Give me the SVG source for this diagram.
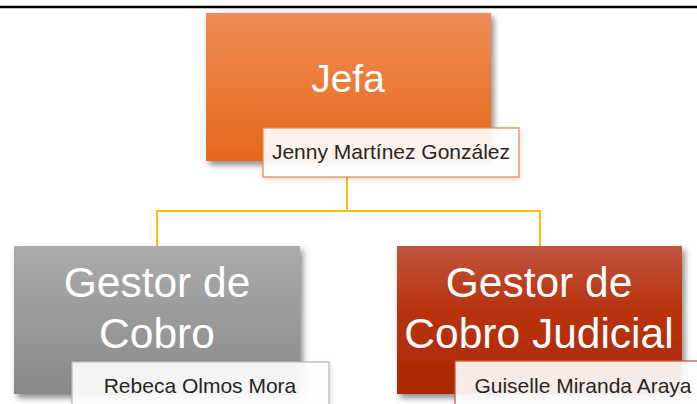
<svg xmlns="http://www.w3.org/2000/svg" width="697" height="404" viewBox="0 0 697 404">
  <defs>
    <linearGradient id="gOrange" x1="0" y1="0" x2="0" y2="1">
      <stop offset="0" stop-color="#F08C56"/>
      <stop offset="1" stop-color="#E4691A"/>
    </linearGradient>
    <linearGradient id="gGray" x1="0" y1="0" x2="0" y2="1">
      <stop offset="0" stop-color="#ABABAB"/>
      <stop offset="1" stop-color="#898989"/>
    </linearGradient>
    <linearGradient id="gRed" x1="0" y1="0" x2="0" y2="1">
      <stop offset="0" stop-color="#C0563E"/>
      <stop offset="0.4" stop-color="#B83412"/>
      <stop offset="1" stop-color="#AC2800"/>
    </linearGradient>
    <filter id="shadow" x="-10%" y="-10%" width="130%" height="130%">
      <feDropShadow dx="3" dy="4" stdDeviation="3" flood-color="#000" flood-opacity="0.45"/>
    </filter>
    <filter id="shadowLight" x="-10%" y="-10%" width="130%" height="140%">
      <feDropShadow dx="1" dy="2" stdDeviation="2" flood-color="#000" flood-opacity="0.15"/>
    </filter>
  </defs>
  <style>
    .title { font-family: "Liberation Sans", Arial, sans-serif; fill: #FFFFFF; text-anchor: middle; }
    .name { font-family: "Liberation Sans", Arial, sans-serif; font-size: 21px; fill: #262626; text-anchor: middle; }
    .namebox { fill: #FFFFFF; fill-opacity: 0.9; stroke-width: 1.3; }
    .conn { fill: none; stroke: #FFC000; stroke-width: 2; }
  </style>
  <rect x="0" y="0" width="697" height="404" fill="#FFFFFF"/>
  <line x1="0" y1="7" x2="697" y2="7" stroke="#000000" stroke-width="2.5"/>

  <g id="connectors">
    <path class="conn" d="M347,177 V211"/>
    <path class="conn" d="M157,246 V211 H540 V246"/>
  </g>

  <g id="node-jefa">
    <rect x="206" y="13" width="285" height="148" fill="url(#gOrange)" filter="url(#shadow)"/>
    <text class="title" x="348" y="92" font-size="39">Jefa</text>
    <rect class="namebox" x="263" y="128" width="256" height="49" stroke="#F08A50" filter="url(#shadowLight)"/>
    <text class="name" x="391" y="159">Jenny Martínez González</text>
  </g>

  <g id="node-gestor-cobro">
    <rect x="14" y="246" width="286" height="148" fill="url(#gGray)" filter="url(#shadow)"/>
    <text class="title" x="157" y="297" font-size="42.5">Gestor de</text>
    <text class="title" x="157" y="348" font-size="42.5">Cobro</text>
    <rect class="namebox" x="72" y="362" width="257" height="50" stroke="#BDBDBD" filter="url(#shadowLight)"/>
    <text class="name" x="200" y="393">Rebeca Olmos Mora</text>
  </g>

  <g id="node-gestor-judicial">
    <rect x="397" y="246" width="285" height="148" fill="url(#gRed)" filter="url(#shadow)"/>
    <text class="title" x="539" y="297" font-size="42.5">Gestor de</text>
    <text class="title" x="539" y="348" font-size="42.5">Cobro Judicial</text>
    <rect class="namebox" x="455" y="361" width="256" height="50" stroke="#C55A3E" filter="url(#shadowLight)"/>
    <text class="name" x="583" y="393">Guiselle Miranda Araya</text>
  </g>
</svg>
